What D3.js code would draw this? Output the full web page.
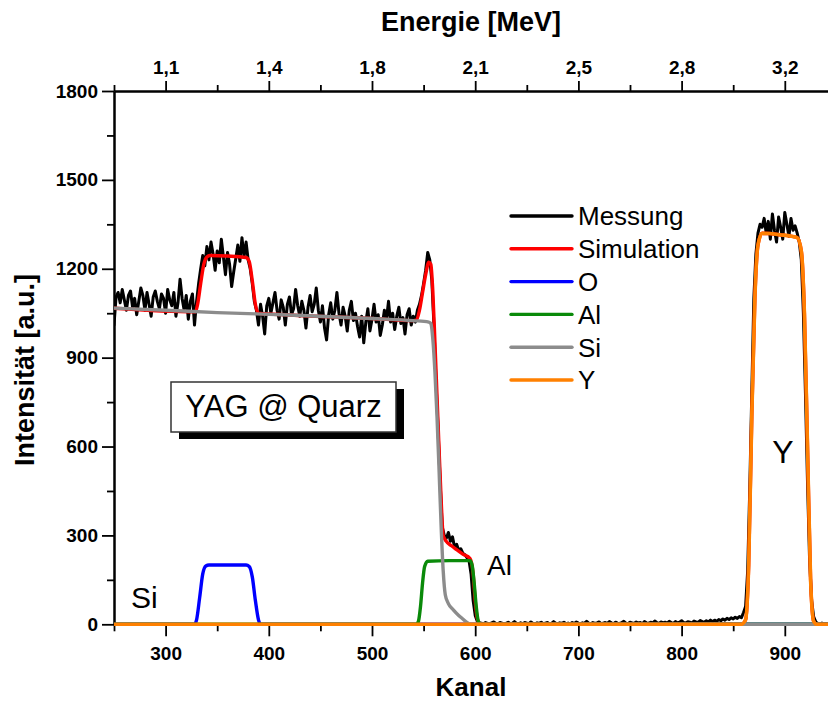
<!DOCTYPE html>
<html>
<head>
<meta charset="utf-8">
<script src="https://cdn.jsdelivr.net/npm/d3@7"></script>
<style>
  html, body { margin: 0; padding: 0; background: #fff; }
  svg { display: block; }
  text { font-family: "Liberation Sans", Arial, Helvetica, sans-serif; fill: #000; }
</style>
</head>
<body>
<svg id="chart" width="828" height="704"></svg>
<script>
// ---- Axis ticks and labels ----
const kanalTicks = [300, 400, 500, 600, 700, 800, 900];
const kanalMinor = [250, 350, 450, 550, 650, 750, 850];
const energieLabels = ["1,1", "1,4", "1,8", "2,1", "2,5", "2,8", "3,2"];
const intensTicks = [0, 300, 600, 900, 1200, 1500, 1800];
const intensMinor = [150, 450, 750, 1050, 1350, 1650];

// ---- Measured spectrum: one value every 2 channels, starting at channel 250 ----
const messungStart = 250;
const messungStep = 2;
const messungWerte = [
  1010, 1105, 1120, 1085, 1130, 1095, 1060, 1110, 1125, 1070, // 250
  1100, 1045, 1090, 1135, 1110, 1060, 1120, 1080, 1040, 1105, // 270
  1125, 1090, 1065, 1115, 1100, 1050, 1130, 1095, 1075, 1120, // 290
  1040, 1085, 1165, 1100, 1060, 1110, 1030, 1090, 1115, 1010, // 310
  1090, 1150, 1200, 1245, 1210, 1275, 1230, 1290, 1250, 1195, // 330
  1260, 1220, 1300, 1240, 1180, 1255, 1215, 1140, 1190, 1235, // 350
  1280, 1225, 1305, 1240, 1290, 1230, 1200, 1150, 1090, 1060, // 370
  1010, 1080, 1040,  980, 1075, 1100, 1050, 1085, 1120, 1060, // 390
  1030, 1095, 1070, 1010, 1080, 1105, 1045, 1065, 1130, 1075, // 410
  1040, 1090, 1060, 1000, 1070, 1110, 1055, 1080, 1135, 1060, // 430
  1020, 1075, 1000,  960, 1045, 1085, 1030, 1060, 1120, 1050, // 450
  1010, 1070, 1040,  990, 1060, 1090, 1025, 1050, 1005,  970, // 470
  1040,  950, 1020, 1065,  990, 1030, 1080, 1020, 1045,  975, // 490
  1010, 1060, 1030, 1090, 1020, 1050,  995, 1040, 1070, 1015, // 510
  1035,  980, 1045, 1065, 1010, 1040, 1020, 1060, 1080, 1110, // 530
  1150, 1195, 1255, 1230, 1160, 1010,  820,  660,  480,  330, // 550
   300,  290,  310,  280,  295,  260,  270,  250,  255,  240, // 570
   235,  225,  215,  170,   80,   30,   10,    5,    4,    2, // 590
     6,    3,    1,    5,    8,    3,    2,    6,    4,    1, // 610
     3,    7,    2,    4,    9,    3,    1,    5,    2,    6, // 630
     4,    2,    8,    3,    1,    5,    3,    7,    2,    4, // 650
     6,    1,    3,    9,    4,    2,    5,    3,    7,    2, // 670
     4,    1,    6,    3,    8,    4,    2,    5,    3,   10, // 690
     4,    2,    6,    3,    5,    8,    2,    4,    6,    3, // 710
     9,    5,    2,    7,    4,    3,    6,   10,    4,    2, // 730
     7,    5,    3,    8,    4,    6,    2,    9,    5,    3, // 750
     7,    4,   11,    6,    3,    8,    5,    7,    4,   10, // 770
     6,    3,    9,    5,    7,   12,    6,    4,    9,    7, // 790
     5,   11,    8,    6,   13,    9,    7,   12,    8,   14, // 810
     9,   14,   10,   16,   12,   18,   14,   20,   16,   22, // 830
    18,   24,   20,   26,   22,   40,   60,  180,  450,  780, // 850
  1100, 1250, 1320, 1350, 1340, 1370, 1320, 1360, 1300, 1385, // 870
  1330, 1290, 1375, 1340, 1300, 1390, 1350, 1310, 1370, 1330, // 890
  1345, 1320, 1290, 1230, 1050,  780,  480,  220,   80,   25, // 910
     8,    3,    2,    4,    2,    3,    1,    2,    1,    2  // 930
];

// ---- Simulated spectrum and element contributions (channel, intensity) ----
const simKanal = [250, 329, 331, 334, 337, 340, 343, 360, 378, 381, 384, 387, 390, 420, 500, 540, 543,
  546, 549, 552, 555, 557, 559, 561, 563, 565, 567, 569, 572, 577, 582, 588, 595, 598, 600, 602, 605,
  858, 862, 865, 868, 871, 874, 878, 895, 912, 916, 919, 922, 925, 928, 931, 950];
const simWert = [1067, 1055, 1080, 1150, 1215, 1240, 1245, 1243, 1238, 1225, 1160, 1080, 1050, 1044, 1032, 1025, 1027,
  1060, 1120, 1180, 1222, 1215, 1120, 950, 770, 590, 420, 300, 280, 265, 252, 237, 222, 170, 80, 20, 0,
  0, 15, 200, 700, 1100, 1280, 1320, 1315, 1305, 1260, 1050, 600, 150, 10, 0, 0];

const oKanal = [250, 328, 330, 333, 336, 339, 342, 378, 381, 384, 387, 390, 392, 950];
const oWert  = [0, 0, 15, 90, 170, 197, 200, 200, 195, 160, 80, 15, 0, 0];

const alKanal = [250, 543, 545, 547, 549, 551, 554, 575, 595, 597, 599, 601, 603, 605, 950];
const alWert  = [0, 0, 10, 60, 140, 195, 213, 215, 215, 200, 140, 60, 10, 0, 0];

const siKanal = [250, 300, 350, 420, 500, 540, 555, 557, 559, 561, 563, 565, 567, 569, 571, 574, 579, 584, 588, 592, 596, 950];
const siWert  = [1067, 1060, 1052, 1044, 1032, 1025, 1020, 1015, 960, 850, 700, 520, 330, 180, 100, 70, 48, 30, 18, 6, 0, 0];

const yKanal = [250, 858, 862, 865, 868, 871, 874, 878, 895, 912, 916, 919, 922, 925, 928, 931, 950];
const yWert  = [0, 0, 15, 200, 700, 1100, 1280, 1320, 1315, 1305, 1260, 1050, 600, 150, 10, 0, 0];

// ---- Legend ----
const legendNamen = ["Messung", "Simulation", "O", "Al", "Si", "Y"];
const legendFarben = ["#000000", "#ff0000", "#0000ff", "#0a8a0a", "#8c8c8c", "#ff8000"];

// ---- Layout ----
const svg = d3.select("#chart");
const plotLeft = 114, plotTop = 91, plotBottom = 624.3;
const pxPerKanal = 1.032;

const x = d3.scaleLinear().domain([250, 950]).range([plotLeft, plotLeft + 700 * pxPerKanal]);
const y = d3.scaleLinear().domain([0, 1800]).range([plotBottom, plotTop]);

svg.append("rect").attr("width", 828).attr("height", 704).attr("fill", "#fff");

svg.append("defs").append("clipPath").attr("id", "plotclip")
  .append("rect").attr("x", plotLeft).attr("y", plotTop - 10)
  .attr("width", 828 - plotLeft).attr("height", plotBottom - plotTop + 16);

// ---- Axes ----
function styleAxis(g) {
  g.selectAll("path.domain").attr("stroke", "#000").attr("stroke-width", 2);
  g.selectAll(".tick line").attr("stroke", "#000").attr("stroke-width", 1.8);
  g.selectAll(".tick text")
    .style("font-family", "'Liberation Sans', Arial, sans-serif")
    .style("font-size", "19px").style("font-weight", "bold").attr("fill", "#000");
}

// bottom
svg.append("g").attr("transform", `translate(0,${plotBottom})`)
  .call(d3.axisBottom(x).tickValues(kanalMinor).tickSize(7).tickSizeOuter(0).tickFormat(""))
  .call(styleAxis);
svg.append("g").attr("transform", `translate(0,${plotBottom})`)
  .call(d3.axisBottom(x).tickValues(kanalTicks).tickSize(12).tickSizeOuter(0).tickPadding(10))
  .call(styleAxis);

// top: energy scale at the same channel positions
svg.append("g").attr("transform", `translate(0,${plotTop})`)
  .call(d3.axisTop(x).tickValues(kanalMinor).tickSize(6).tickSizeOuter(0).tickFormat(""))
  .call(styleAxis);
svg.append("g").attr("transform", `translate(0,${plotTop})`)
  .call(d3.axisTop(x).tickValues(kanalTicks).tickSize(10).tickSizeOuter(0).tickPadding(7)
    .tickFormat((d, i) => energieLabels[i]))
  .call(styleAxis);

// left
svg.append("g").attr("transform", `translate(${plotLeft},0)`)
  .call(d3.axisLeft(y).tickValues(intensMinor).tickSize(7).tickSizeOuter(0).tickFormat(""))
  .call(styleAxis);
svg.append("g").attr("transform", `translate(${plotLeft},0)`)
  .call(d3.axisLeft(y).tickValues(intensTicks).tickSize(12).tickSizeOuter(0).tickPadding(4)
    .tickFormat(d3.format("d")))
  .call(styleAxis);

// ---- Data lines (drawn over the axis frame) ----
const plot = svg.append("g").attr("clip-path", "url(#plotclip)");

function zip(k, v) { return k.map((c, i) => [c, v[i]]); }

const messung = messungWerte.map((v, i) => [messungStart + i * messungStep, v]);

const lineLin = d3.line().x(d => x(d[0])).y(d => y(d[1]));
const lineSmooth = d3.line().x(d => x(d[0])).y(d => y(d[1])).curve(d3.curveMonotoneX);

const serien = [
  { daten: messung, farbe: legendFarben[0], breite: 3, gen: lineLin },
  { daten: zip(simKanal, simWert), farbe: legendFarben[1], breite: 3.4, gen: lineSmooth },
  { daten: zip(oKanal, oWert), farbe: legendFarben[2], breite: 3.4, gen: lineSmooth },
  { daten: zip(alKanal, alWert), farbe: legendFarben[3], breite: 3.4, gen: lineSmooth },
  { daten: zip(siKanal, siWert), farbe: legendFarben[4], breite: 3.4, gen: lineSmooth },
  { daten: zip(yKanal, yWert), farbe: legendFarben[5], breite: 3.6, gen: lineSmooth }
];

serien.forEach(s => {
  plot.append("path")
    .datum(s.daten)
    .attr("fill", "none")
    .attr("stroke", s.farbe)
    .attr("stroke-width", s.breite)
    .attr("stroke-linejoin", "round")
    .attr("stroke-linecap", "round")
    .attr("d", s.gen);
});

// ---- Axis titles ----
svg.append("text").attr("x", 471).attr("y", 31).attr("text-anchor", "middle")
  .style("font-size", "27px").style("font-weight", "bold").text("Energie [MeV]");
svg.append("text").attr("x", 471).attr("y", 696).attr("text-anchor", "middle")
  .style("font-size", "26px").style("font-weight", "bold").text("Kanal");
svg.append("text").attr("transform", "translate(34,370) rotate(-90)").attr("text-anchor", "middle")
  .style("font-size", "27px").style("font-weight", "bold").text("Intensität [a.u.]");

// ---- Legend ----
const legend = svg.append("g");
legendNamen.forEach((name, i) => {
  const ly = 216 + i * 32.8;
  legend.append("line").attr("x1", 511).attr("x2", 572).attr("y1", ly).attr("y2", ly)
    .attr("stroke", legendFarben[i]).attr("stroke-width", 3.4).attr("stroke-linecap", "round");
  legend.append("text").attr("x", 578).attr("y", ly).attr("dy", "0.36em")
    .style("font-size", "26px").text(name);
});

// ---- Sample box ----
svg.append("rect").attr("x", 179).attr("y", 389).attr("width", 225).attr("height", 50).attr("fill", "#000");
svg.append("rect").attr("x", 171).attr("y", 382).attr("width", 225).attr("height", 50)
  .attr("fill", "#fff").attr("stroke", "#333").attr("stroke-width", 1.5);
svg.append("text").attr("x", 283.5).attr("y", 417).attr("text-anchor", "middle")
  .style("font-size", "31px").text("YAG @ Quarz");

// ---- Element labels ----
svg.append("text").attr("x", 783).attr("y", 463).attr("text-anchor", "middle")
  .style("font-size", "32px").text("Y");
svg.append("text").attr("x", 487).attr("y", 575)
  .style("font-size", "28px").text("Al");
svg.append("text").attr("x", 131).attr("y", 608)
  .style("font-size", "30px").text("Si");
</script>
</body>
</html>
